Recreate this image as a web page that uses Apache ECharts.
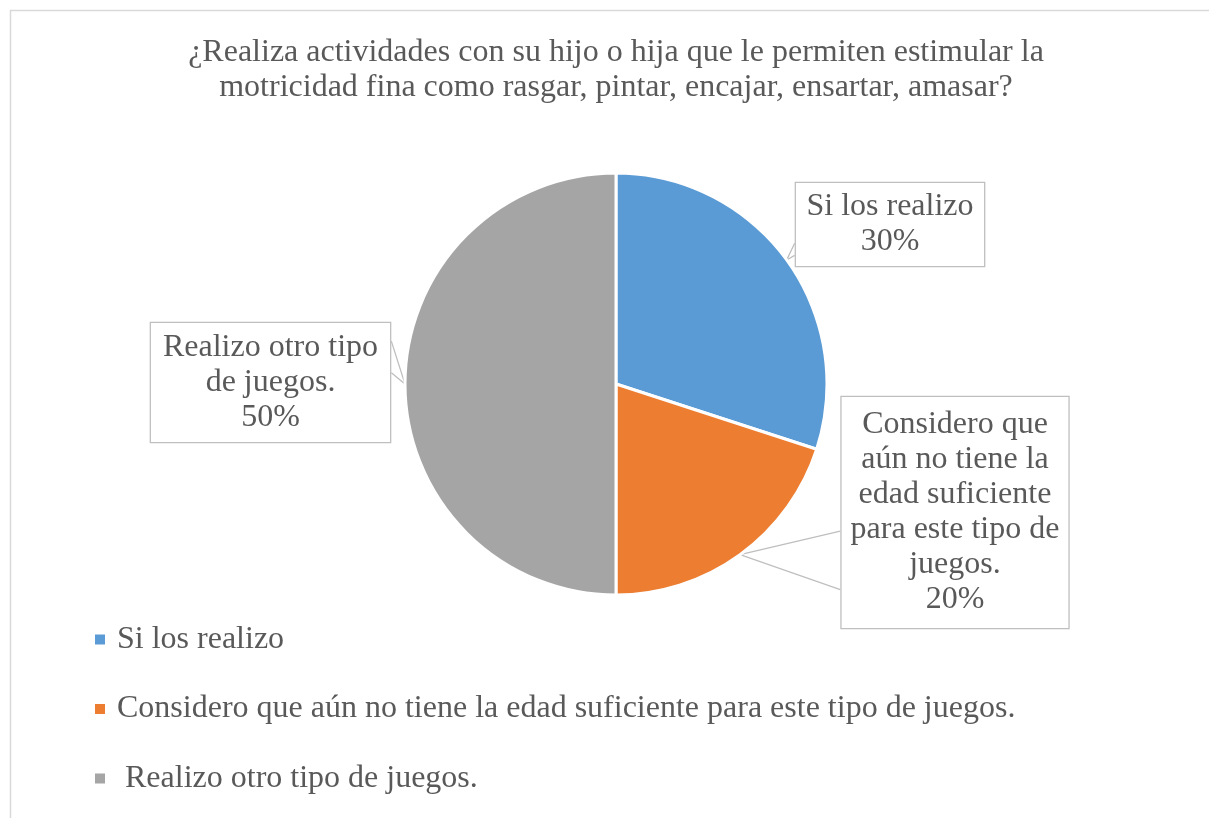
<!DOCTYPE html>
<html><head><meta charset="utf-8">
<script src="https://cdn.jsdelivr.net/npm/echarts@6/dist/echarts.min.js"></script>
<style>html,body{margin:0;padding:0;background:#fff}#c{width:1209px;height:818px}</style>
</head><body><div id="c"></div>
<script>
// ---- data ----
const titleLines = ['¿Realiza actividades con su hijo o hija que le permiten estimular la', 'motricidad fina como rasgar, pintar, encajar, ensartar, amasar?'];
const categories = ['Si los realizo', 'Considero que aún no tiene la edad suficiente para este tipo de juegos.', ' Realizo otro tipo de juegos.'];
const values = [30, 20, 50];
const labelTexts = ['Si los realizo', 'Considero que\naún no tiene la\nedad suficiente\npara este tipo de\njuegos.', 'Realizo otro tipo\nde juegos.'];

// ---- styling ----
const colors = ['#5B9BD5', '#ED7D31', '#A5A5A5'];
const FONT = "'Liberation Serif', 'Times New Roman', serif";
const TXT = '#595959';
const boxLayout = [
  {cx: 890, cy: 224.5, padding: [6.5, 10.5], side: 'left', f: [0.72, 0.86]},
  {cx: 955, cy: 512.5, padding: [10.5, 9], side: 'left', f: [0.58, 0.83]},
  {cx: 270.5, cy: 382.5, padding: [7, 12], side: 'right', f: [0.16, 0.42]}
];

const chart = echarts.init(document.getElementById('c'), null, {renderer: 'canvas'});
const data = categories.map((n, i) => ({
  name: n, value: values[i],
  itemStyle: {color: colors[i]},
  label: {padding: boxLayout[i].padding}
}));

chart.setOption({
  animation: false,
  backgroundColor: '#fff',
  graphic: [{
    type: 'rect', silent: true, z: -10,
    shape: {x: 10.5, y: 10.5, width: 1230, height: 840},
    style: {fill: 'none', stroke: '#D9D9D9', lineWidth: 1.5}
  }],
  title: {
    text: titleLines.join('\n'),
    left: 611, top: 30, textAlign: 'center',
    textStyle: {fontFamily: FONT, fontSize: 32, lineHeight: 35, fontWeight: 'normal', color: TXT}
  },
  legend: {
    orient: 'vertical', left: 90, top: 617,
    icon: 'rect', itemWidth: 10, itemHeight: 10, itemGap: 34.5,
    selectedMode: false,
    data: categories,
    itemStyle: {borderWidth: 0, borderColor: 'transparent'},
    textStyle: {fontFamily: FONT, fontSize: 32, lineHeight: 35, color: TXT, padding: [0, 0, 0, 7]}
  },
  series: [{
    type: 'pie',
    center: [616, 384], radius: 211,
    startAngle: 90, clockwise: true,
    avoidLabelOverlap: false,
    emphasis: {disabled: true},
    itemStyle: {borderColor: '#fff', borderWidth: 3},
    label: {
      show: true, position: 'outside',
      formatter: p => labelTexts[p.dataIndex] + '\n' + p.percent + '%',
      fontFamily: FONT, fontSize: 32, lineHeight: 35, color: TXT,
      align: 'center',
      backgroundColor: '#fff', borderColor: '#BFBFBF', borderWidth: 1.3
    },
    labelLine: {show: true, length: 10, length2: 10, smooth: false, lineStyle: {color: '#BFBFBF', width: 1.3}},
    labelLayout: function (params) {
      const b = boxLayout[params.dataIndex];
      const w = params.labelRect.width, h = params.labelRect.height;
      const x0 = b.cx - w / 2, y0 = b.cy - h / 2;
      const ex = b.side === 'left' ? x0 : x0 + w;
      const res = {x: b.cx, y: b.cy, align: 'center', verticalAlign: 'middle'};
      const tip = params.labelLinePoints ? params.labelLinePoints[0] : null;
      if (tip) res.labelLinePoints = [[ex, y0 + b.f[0] * h], [tip[0], tip[1]], [ex, y0 + b.f[1] * h]];
      return res;
    },
    data: data
  }]
});
</script></body></html>
